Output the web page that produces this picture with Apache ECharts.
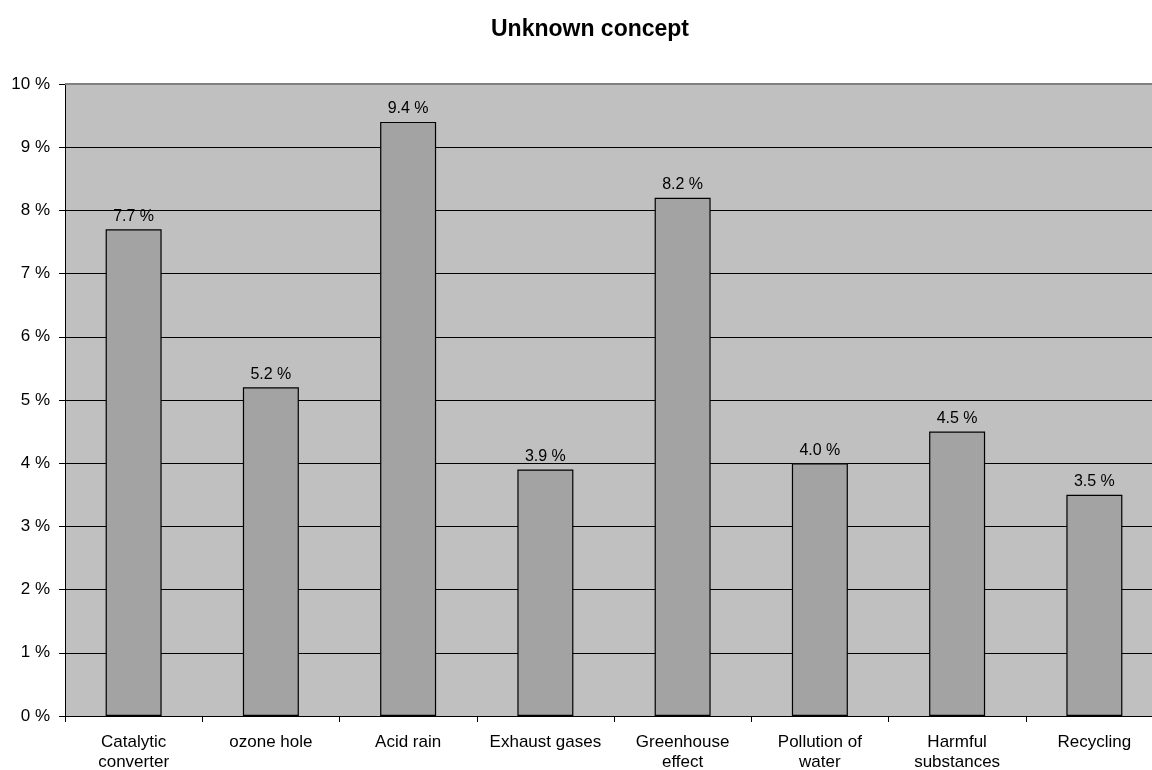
<!DOCTYPE html>
<html>
<head>
<meta charset="utf-8">
<title>Unknown concept</title>
<script src="https://cdn.jsdelivr.net/npm/echarts@6/dist/echarts.min.js"></script>
<style>
  html, body { margin: 0; padding: 0; background: #ffffff; overflow: hidden; }
  #chart { width: 1152px; height: 770px; }
</style>
</head>
<body>
<div id="chart"></div>
<script>
// Share of respondents for whom each concept is unknown (percent)
const categories = [
  'Catalytic\nconverter', 'ozone hole', 'Acid rain', 'Exhaust gases',
  'Greenhouse\neffect', 'Pollution of\nwater', 'Harmful\nsubstances', 'Recycling'
];
const unknownShare = [7.7, 5.2, 9.4, 3.9, 8.2, 4.0, 4.5, 3.5];
const yTicks = [0, 1, 2, 3, 4, 5, 6, 7, 8, 9, 10];

const font = '"Liberation Sans", Arial, sans-serif';
const yMax = yTicks[yTicks.length - 1];

const chart = echarts.init(document.getElementById('chart'), null, { renderer: 'canvas' });
chart.setOption({
  animation: false,
  backgroundColor: '#ffffff',
  title: {
    text: 'Unknown concept',
    left: 585,
    top: 13,
    textAlign: 'center',
    textStyle: { fontFamily: font, fontSize: 23, fontWeight: 'bold', color: '#000' }
  },
  grid: {
    // the plot area runs slightly past the right edge of the page
    left: 65,
    top: 84,
    width: 1098,
    height: 632,
    outerBoundsMode: 'none',
    containLabel: false,
    show: true,
    backgroundColor: '#c0c0c0',
    borderWidth: 0
  },
  xAxis: {
    type: 'category',
    data: categories,
    axisLine: { show: true, lineStyle: { color: '#000', width: 1 } },
    axisTick: { show: true, length: 6, alignWithLabel: false, lineStyle: { color: '#000' } },
    axisLabel: {
      fontFamily: font, fontSize: 17, color: '#000', margin: 16,
      lineHeight: 20, interval: 0
    },
    splitLine: { show: false }
  },
  yAxis: {
    type: 'value',
    min: yTicks[0],
    max: yMax,
    interval: 1,
    axisLine: { show: true, lineStyle: { color: '#000', width: 1 } },
    axisTick: { show: true, length: 6, lineStyle: { color: '#000' } },
    axisLabel: {
      fontFamily: font, fontSize: 17, color: '#000', margin: 15,
      formatter: v => v + ' %'
    },
    splitLine: { show: true, lineStyle: { color: '#000', width: 1 } }
  },
  series: [{
    type: 'bar',
    data: unknownShare,
    barWidth: 56,
    itemStyle: { color: '#a3a3a3', borderColor: '#000', borderWidth: 1.2 },
    label: {
      show: true,
      position: 'top',
      distance: 5,
      fontFamily: font, fontSize: 16, color: '#000',
      formatter: p => p.value.toFixed(1) + ' %'
    },
    // grey upper edge of the plot area
    markLine: {
      silent: true,
      symbol: 'none',
      label: { show: false },
      lineStyle: { color: '#808080', width: 2, type: 'solid' },
      data: [{ yAxis: yMax }]
    }
  }]
});
</script>
</body>
</html>
